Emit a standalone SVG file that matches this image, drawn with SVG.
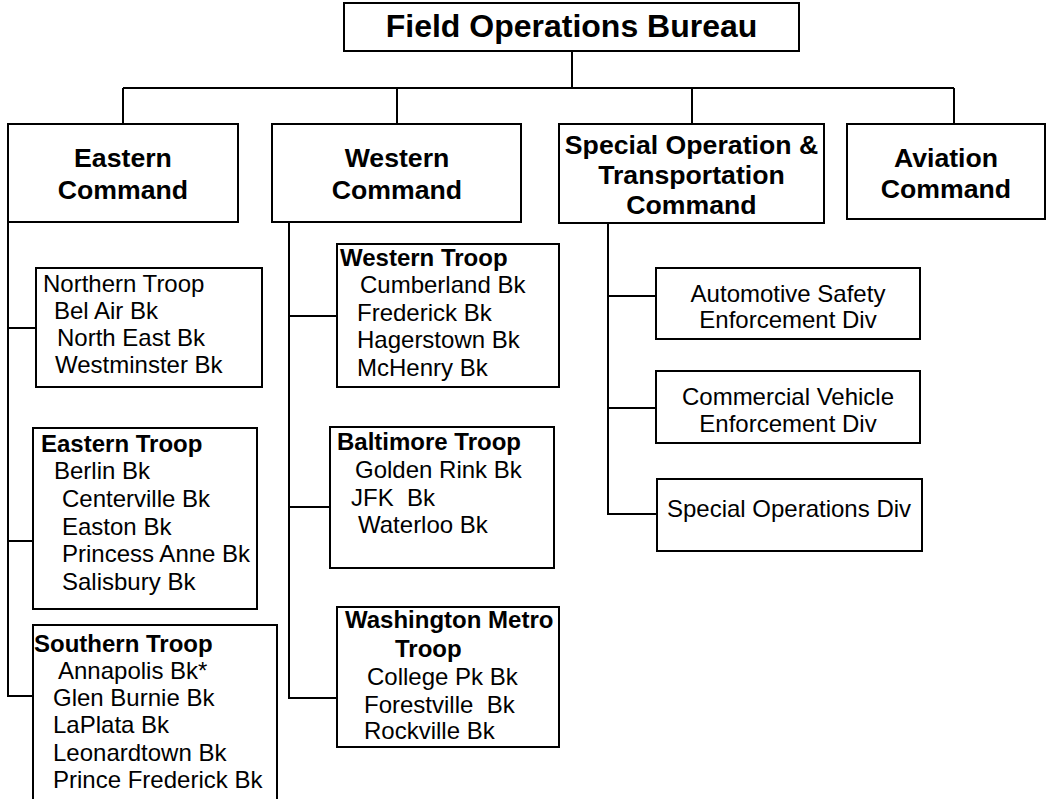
<svg xmlns="http://www.w3.org/2000/svg" width="1047" height="799" viewBox="0 0 1047 799">
<style>
.box{fill:#fff;stroke:#000;stroke-width:2}
.ln{fill:none;stroke:#000;stroke-width:2}
text{font-family:"Liberation Sans",Arial,sans-serif;fill:#000}
.t{font-size:24px}
.b{font-size:24px;font-weight:bold}
.c{font-size:26.67px;font-weight:bold;text-anchor:middle}
.m{font-size:24px;text-anchor:middle}
</style>
<g id="connectors">
<path class="ln" d="M572 51V88M123 88H954M123 88V124M397 88V124M692 88V124M954 88V124"/>
<path class="ln" d="M8 222V696H33M8 328H36M8 541H33"/>
<path class="ln" d="M289 222V698H337M289 316H337M289 507H330"/>
<path class="ln" d="M608 223V514H657M608 296H656M608 408H656"/>
</g>
<g id="bureau">
<rect class="box" x="344" y="3" width="455" height="48"/>
<text x="571.5" y="37" font-size="32" font-weight="bold" text-anchor="middle">Field Operations Bureau</text>
</g>
<g id="eastern-command">
<rect class="box" x="8" y="124" width="230" height="98"/>
<text class="c" x="123" y="167">Eastern</text>
<text class="c" x="123" y="199">Command</text>
</g>
<g id="western-command">
<rect class="box" x="272" y="124" width="249" height="98"/>
<text class="c" x="397" y="167">Western</text>
<text class="c" x="397" y="199">Command</text>
</g>
<g id="special-command">
<rect class="box" x="559" y="124" width="265" height="99"/>
<text class="c" x="691.5" y="154">Special Operation &amp;</text>
<text class="c" x="691.5" y="184">Transportation</text>
<text class="c" x="691.5" y="214">Command</text>
</g>
<g id="aviation-command">
<rect class="box" x="847" y="124" width="198" height="95"/>
<text class="c" x="946" y="167">Aviation</text>
<text class="c" x="946" y="198">Command</text>
</g>
<g id="northern-troop">
<rect class="box" x="36" y="268" width="226" height="119"/>
<text class="t" x="43" y="292">Northern Troop</text>
<text class="t" x="54" y="319">Bel Air Bk</text>
<text class="t" x="57" y="346">North East Bk</text>
<text class="t" x="55" y="373">Westminster Bk</text>
</g>
<g id="eastern-troop">
<rect class="box" x="33" y="428" width="224" height="181"/>
<text class="b" x="41" y="452">Eastern Troop</text>
<text class="t" x="54" y="479">Berlin Bk</text>
<text class="t" x="62" y="507">Centerville Bk</text>
<text class="t" x="62" y="535">Easton Bk</text>
<text class="t" x="62" y="562">Princess Anne Bk</text>
<text class="t" x="62" y="590">Salisbury Bk</text>
</g>
<g id="southern-troop">
<rect class="box" x="33" y="625" width="244" height="190"/>
<text class="b" x="34" y="652">Southern Troop</text>
<text class="t" x="58" y="679">Annapolis Bk*</text>
<text class="t" x="53" y="706">Glen Burnie Bk</text>
<text class="t" x="53" y="733">LaPlata Bk</text>
<text class="t" x="53" y="761">Leonardtown Bk</text>
<text class="t" x="53" y="788">Prince Frederick Bk</text>
</g>
<g id="western-troop">
<rect class="box" x="337" y="244" width="222" height="143"/>
<text class="b" x="340" y="266">Western Troop</text>
<text class="t" x="360" y="293">Cumberland Bk</text>
<text class="t" x="357" y="321">Frederick Bk</text>
<text class="t" x="357" y="348">Hagerstown Bk</text>
<text class="t" x="357" y="376">McHenry Bk</text>
</g>
<g id="baltimore-troop">
<rect class="box" x="330" y="427" width="224" height="141"/>
<text class="b" x="337" y="450">Baltimore Troop</text>
<text class="t" x="355" y="478">Golden Rink Bk</text>
<text class="t" x="351" y="506" xml:space="preserve">JFK  Bk</text>
<text class="t" x="358" y="533">Waterloo Bk</text>
</g>
<g id="washington-troop">
<rect class="box" x="337" y="607" width="222" height="140"/>
<text class="b" x="345" y="628">Washington Metro</text>
<text class="b" x="395" y="657">Troop</text>
<text class="t" x="367" y="685">College Pk Bk</text>
<text class="t" x="364" y="713" xml:space="preserve">Forestville  Bk</text>
<text class="t" x="364" y="739">Rockville Bk</text>
</g>
<g id="automotive-div">
<rect class="box" x="656" y="268" width="264" height="71"/>
<text class="m" x="788" y="302">Automotive Safety</text>
<text class="m" x="788" y="328">Enforcement Div</text>
</g>
<g id="commercial-div">
<rect class="box" x="656" y="371" width="264" height="72"/>
<text class="m" x="788" y="405">Commercial Vehicle</text>
<text class="m" x="788" y="432">Enforcement Div</text>
</g>
<g id="special-ops-div">
<rect class="box" x="657" y="479" width="265" height="72"/>
<text class="m" x="789" y="517">Special Operations Div</text>
</g>
</svg>
